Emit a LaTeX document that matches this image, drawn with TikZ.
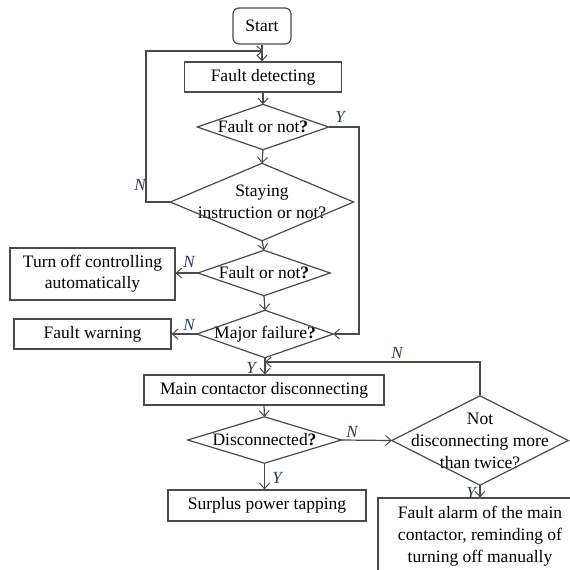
\documentclass[tikz,border=0pt]{standalone}
\usepackage{fontspec}
\setmainfont{Liberation Serif}
\usetikzlibrary{arrows.meta,calc}
\definecolor{linegray}{HTML}{4A4A4A}
\definecolor{labelblue}{HTML}{2B3A6B}
\tikzset{
  flow/.style={draw=linegray, line width=1.2pt, -{Straight Barb[length=5.5pt,width=10pt,line width=1pt]}},
  plain/.style={draw=linegray, line width=1.2pt},
  box/.style={draw=linegray, line width=1.2pt, inner sep=0pt, align=center,
    font=\fontsize{17.5}{21}\selectfont},
  startbox/.style={box, rounded corners=6pt},
  decision/.style={inner sep=0pt, align=center, font=\fontsize{17.5}{22}\selectfont},
  lbl/.style={text=labelblue, font=\fontsize{17}{17}\selectfont\itshape, inner sep=0pt},
}
\newcommand{\qm}{\textbf{?}}
\begin{document}
\begin{tikzpicture}[x=1pt,y=-1pt]
\useasboundingbox (0,0) rectangle (570,570);
\clip (0,0) rectangle (570,570);

% process boxes
\node[startbox, minimum width=58pt, minimum height=36pt] (start) at (262,26) {Start};
\node[box, minimum width=157pt, minimum height=30pt] (detect) at (263,77) {Fault detecting};
\node[box, minimum width=165pt, minimum height=52pt] (off) at (92.5,274) {Turn off controlling\\automatically};
\node[box, minimum width=157pt, minimum height=30pt] (warn) at (92.5,334) {Fault warning};
\node[box, minimum width=240pt, minimum height=30pt] (main) at (264,390) {Main contactor disconnecting};
\node[box, minimum width=198pt, minimum height=31pt] (surplus) at (267,505.5) {Surplus power tapping};
\node[box, minimum width=204pt, minimum height=76pt, font=\fontsize{17.5}{22}\selectfont] (alarm) at (480,536)
  {Fault alarm of the main\\contactor, reminding of\\turning off manually};

% decisions (diamond outlines drawn below)
\node[decision, minimum width=131pt, minimum height=45pt] (d1) at (263,127) {Fault or not\qm};
\node[decision, minimum width=183pt, minimum height=77pt] (d2) at (262,202) {Staying\\instruction or not?};
\node[decision, minimum width=132pt, minimum height=45pt] (d3) at (264,273) {Fault or not\qm};
\node[decision, minimum width=136pt, minimum height=47pt] (d4) at (265,334) {Major failure\qm};
\node[decision, minimum width=153pt, minimum height=46pt] (d5) at (264.5,440) {Disconnected\qm};
\node[decision, minimum width=176pt, minimum height=89pt] (d6) at (480,440.5) {Not\\disconnecting more\\than twice?};

\foreach \d in {d1,d2,d3,d4,d5,d6}
  \draw[plain] (\d.north) -- (\d.east) -- (\d.south) -- (\d.west) -- cycle;

% helper points of the loops
\coordinate (loopL) at (146,202);
\coordinate (loopT) at (146,51);
\coordinate (joinT) at (263,51);
\coordinate (sideR) at (359,127);
\coordinate (sideRb) at (359,334);
\coordinate (backT) at (480,362);
\coordinate (backL) at (265,362);

% main spine
\draw[flow] (start.south) -- (start.south |- detect.north);
\draw[flow] (detect.south) -- (d1.north);
\draw[flow] (d1.south) -- (d2.north);
\draw[flow] (d2.south) -- (d3.north);
\draw[flow] (d3.south) -- (d4.north);
\draw[flow] (d4.south) -- (d4.south |- main.north);
\draw[flow] (main.south) -- (d5.north);
\draw[flow] (d5.south) -- (d5.south |- surplus.north);
\draw[flow] (d5.east) -- (d6.west);
\draw[flow] (d6.south) -- (d6.south |- alarm.north);

% side branches
\draw[flow] (d2.west) -- (loopL) -- (loopT) -- (joinT);
\draw[flow] (d1.east) -- (sideR) -- (sideRb) -- (d4.east);
\draw[flow] (d3.west) -- (off.east |- d3.west);
\draw[flow] (d4.west) -- (warn.east |- d4.west);
\draw[flow] (d6.north) -- (backT) -- (backL);

% branch labels
\node[lbl] (nA) at (140,185) {N};
\node[lbl] (yA) at (340,117) {Y};
\node[lbl] (nB) at (189,262) {N};
\node[lbl] (nC) at (189,325) {N};
\node[lbl] (yB) at (251,368) {Y};
\node[lbl] (nD) at (397,353) {N};
\node[lbl] (nE) at (352,432) {N};
\node[lbl] (yC) at (277,478) {Y};
\node[lbl] (yD) at (471,493) {Y};
\end{tikzpicture}
\end{document}
